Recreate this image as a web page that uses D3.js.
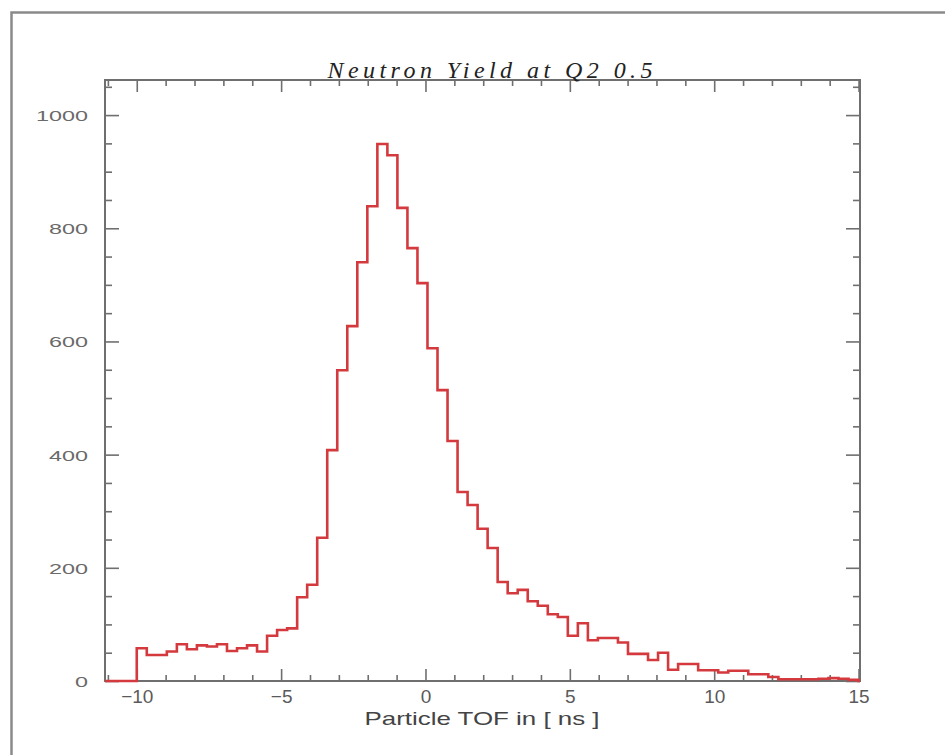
<!DOCTYPE html>
<html>
<head>
<meta charset="utf-8">
<script src="https://cdn.jsdelivr.net/npm/d3@7"></script>
<style>
  body{margin:0;background:#fff;}
</style>
</head>
<body>
<div id="chart-area"></div>
<script>
// histogram: 72 bins from -10 to 15 ns
var binStart=-10;
var binEnd=15;
var counts=[58,46,46,52,65,56,63,61,65,53,58,63,52,80,90,93,148,170,253,408,
            549,627,740,839,949,929,836,765,703,588,514,424,334,311,269,235,175,155,161,141,
            133,118,113,80,102,72,76,76,68,48,48,37,50,20,30,30,19,19,15,18,
            18,12,12,7,3,3,3,3,4,5,4,2];
var xMajor=[-10,-5,0,5,10,15];
var xMinor=d3.range(-11,16,1);
var yMajor=[0,200,400,600,800,1000];
var yMinor=d3.range(0,1051,50);
var title="Neutron Yield at Q2 0.5";
var xTitle="Particle TOF in [ ns ]";

var width=945, height=755;
var plot={left:105,right:860,top:80,bottom:681};

var svg=d3.select("#chart-area").append("svg")
    .attr("width",width)
    .attr("height",height)
    .style("display","block");

svg.append("rect").attr("width",width).attr("height",height).attr("fill","#fff");

// outer frame (only left and top are visible)
svg.append("path")
    .attr("d","M11.5,"+height+"V12.5H"+width)
    .attr("fill","none")
    .attr("stroke","#8a8a8a")
    .attr("stroke-width",2.5);

var x=d3.scaleLinear()
    .domain([-11.1,15.05])
    .range([plot.left,plot.right]);

var y=d3.scaleLinear()
    .domain([0,1062])
    .range([plot.bottom,plot.top]);

var binW=(binEnd-binStart)/counts.length;

// inward ticks on all four sides
function drawAxis(axisFn,scale,vals,size,pos){
    var a=axisFn(scale).tickValues(vals).tickSize(-size).tickFormat("");
    var g=svg.append("g").attr("transform",pos).call(a);
    g.select(".domain").remove();
    g.selectAll(".tick line").attr("stroke","#6f6f6f").attr("stroke-width",1.6);
    return g;
}
var minorX=xMinor.filter(function(v){return xMajor.indexOf(v)<0;});
var minorY=yMinor.filter(function(v){return yMajor.indexOf(v)<0;});

drawAxis(d3.axisBottom,x,xMajor,12,"translate(0,"+plot.bottom+")");
drawAxis(d3.axisBottom,x,minorX,6,"translate(0,"+plot.bottom+")");
drawAxis(d3.axisTop,x,xMajor,12,"translate(0,"+plot.top+")");
drawAxis(d3.axisTop,x,minorX,6,"translate(0,"+plot.top+")");
drawAxis(d3.axisLeft,y,yMajor,14,"translate("+plot.left+",0)");
drawAxis(d3.axisLeft,y,minorY,7,"translate("+plot.left+",0)");
drawAxis(d3.axisRight,y,yMajor,14,"translate("+plot.right+",0)");
drawAxis(d3.axisRight,y,minorY,7,"translate("+plot.right+",0)");

// frame of the plot
svg.append("rect")
    .attr("x",plot.left)
    .attr("y",plot.top)
    .attr("width",plot.right-plot.left)
    .attr("height",plot.bottom-plot.top)
    .attr("fill","none")
    .attr("stroke","#6f6f6f")
    .attr("stroke-width",2);

// tick labels
var yLab=d3.axisLeft(y).tickValues(yMajor).tickSize(0).tickPadding(17)
    .tickFormat(d3.format("d"));
var gy=svg.append("g").attr("transform","translate("+plot.left+",0)").call(yLab);
gy.select(".domain").remove();
gy.selectAll("text")
    .attr("font-family","Liberation Sans, Arial, sans-serif")
    .attr("font-size","15px")
    .attr("fill","#6a6a6a")
    .attr("dy","0.36em")
    .attr("textLength",function(d){return String(d).length*13;})
    .attr("lengthAdjust","spacingAndGlyphs");

var xLab=d3.axisBottom(x).tickValues(xMajor).tickSize(0).tickPadding(9)
    .tickFormat(function(d){return d<0?"\u2212"+Math.abs(d):String(d);});
var gx=svg.append("g").attr("transform","translate(0,"+plot.bottom+")").call(xLab);
gx.select(".domain").remove();
gx.selectAll("text")
    .attr("font-family","Liberation Sans, Arial, sans-serif")
    .attr("font-size","19px")
    .attr("fill","#5a5a5a");

// histogram outline
var pts=[[x.domain()[0],0],[binStart,0]];
counts.forEach(function(c,i){
    var x0=binStart+i*binW;
    pts.push([x0,c]);
    pts.push([x0+binW,c]);
});
pts.push([binEnd,0]);
pts.push([x.domain()[1],0]);

var line=d3.line()
    .x(function(d){return x(d[0]);})
    .y(function(d){return y(d[1]);});

svg.append("path")
    .datum(pts)
    .attr("d",line)
    .attr("fill","none")
    .attr("stroke","#d4393e")
    .attr("stroke-width",2.6)
    .attr("stroke-linejoin","miter");

// titles
svg.append("text")
    .attr("x",490)
    .attr("y",78)
    .attr("text-anchor","middle")
    .attr("font-family","Liberation Serif, Times New Roman, serif")
    .attr("font-style","italic")
    .attr("font-size","24px")
    .attr("fill","#222")
    .attr("textLength",325)
    .attr("lengthAdjust","spacing")
    .text(title);

svg.append("text")
    .attr("x",482)
    .attr("y",725)
    .attr("text-anchor","middle")
    .attr("font-family","Liberation Sans, Arial, sans-serif")
    .attr("font-size","19px")
    .attr("fill","#444")
    .attr("textLength",235)
    .attr("lengthAdjust","spacingAndGlyphs")
    .text(xTitle);
</script>
</body>
</html>
